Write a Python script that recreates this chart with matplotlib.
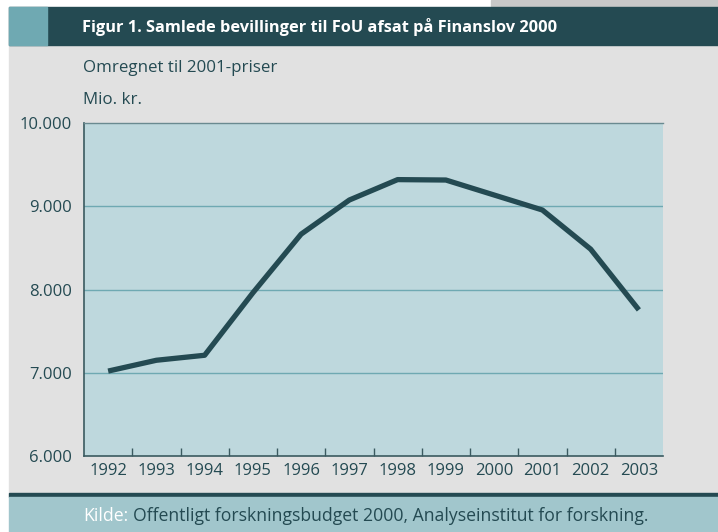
import matplotlib
matplotlib.use('Agg')
import matplotlib.pyplot as plt
from matplotlib.patches import Rectangle

plt.rcParams['font.family'] = ['Open Sans', 'DejaVu Sans']

years = ['1992', '1993', '1994', '1995', '1996', '1997',
         '1998', '1999', '2000', '2001', '2002', '2003']
bevillinger = [7020, 7150, 7210, 7960, 8665, 9075,
               9320, 9315, 9135, 8955, 8485, 7755]
yticks = [6000, 7000, 8000, 9000, 10000]
ylabels = ['6.000', '7.000', '8.000', '9.000', '10.000']

W, H = 718, 532
dark = '#244a52'
fig = plt.figure(figsize=(W / 100, H / 100), dpi=100, facecolor='white')

def px_rect(x0, y0, x1, y1, color):
    # rectangle in pixel coords (top-left origin)
    fig.patches.append(Rectangle((x0 / W, 1 - y1 / H), (x1 - x0) / W, (y1 - y0) / H,
                                 transform=fig.transFigure, color=color, zorder=-10))

px_rect(491, 0, W, 6, '#c8c8c8')
px_rect(9, 45, W, 493, '#e1e1e1')
px_rect(9, 7, W, 45, dark)
px_rect(9, 7, 47, 45, '#6fa9b2')
px_rect(9, 493, W, 497, dark)
px_rect(9, 497, W, H, '#a1c6cc')

fig.text(82 / W, 1 - 27 / H, 'Figur 1. Samlede bevillinger til FoU afsat på Finanslov 2000',
         color='white', fontsize=11.8, fontweight='bold', va='center', ha='left')
fig.text(83 / W, 1 - 68 / H, 'Omregnet til 2001-priser', color=dark, fontsize=12.2,
         va='center', ha='left')
fig.text(83 / W, 1 - 100 / H, 'Mio. kr.', color=dark, fontsize=12.2, va='center', ha='left')

fig.text(83 / W, 1 - 516 / H, 'Kilde:', color='white', fontsize=12.7, va='center', ha='left')
fig.text(133 / W, 1 - 516 / H, 'Offentligt forskningsbudget 2000, Analyseinstitut for forskning.',
         color=dark, fontsize=12.7, va='center', ha='left')

ax = fig.add_axes([84 / W, 1 - 456 / H, (663 - 84) / W, (456 - 123) / H])
ax.set_facecolor('#bed8dd')
x = list(range(len(years)))
ax.plot(x, bevillinger, color=dark, lw=3.8, solid_capstyle='butt', zorder=3)
ax.set_xlim(-0.5, len(years) - 0.5)
ax.set_ylim(6000, 10000)

ax.set_yticks(yticks)
ax.set_yticklabels(ylabels)
ax.set_xticks(x)
ax.set_xticklabels(years)
ax.set_xticks([i + 0.5 for i in range(len(years) - 1)], minor=True)
ax.tick_params(axis='x', which='major', length=0, pad=5, labelsize=12, labelcolor=dark)
ax.tick_params(axis='x', which='minor', direction='in', length=6, width=1, color='#3a5a60')
ax.tick_params(axis='y', length=0, pad=9, labelsize=12, labelcolor=dark)

for v in yticks[1:-1]:
    ax.axhline(v, color='#6fa9b2', lw=1, zorder=1)

for s in ['left', 'bottom']:
    ax.spines[s].set_color('#3a5a60')
    ax.spines[s].set_linewidth(1.2)
ax.spines['top'].set_color('#6a8a90')
ax.spines['top'].set_linewidth(1)
ax.spines['right'].set_visible(False)

fig.savefig('out.png', dpi=100, facecolor=fig.get_facecolor())
